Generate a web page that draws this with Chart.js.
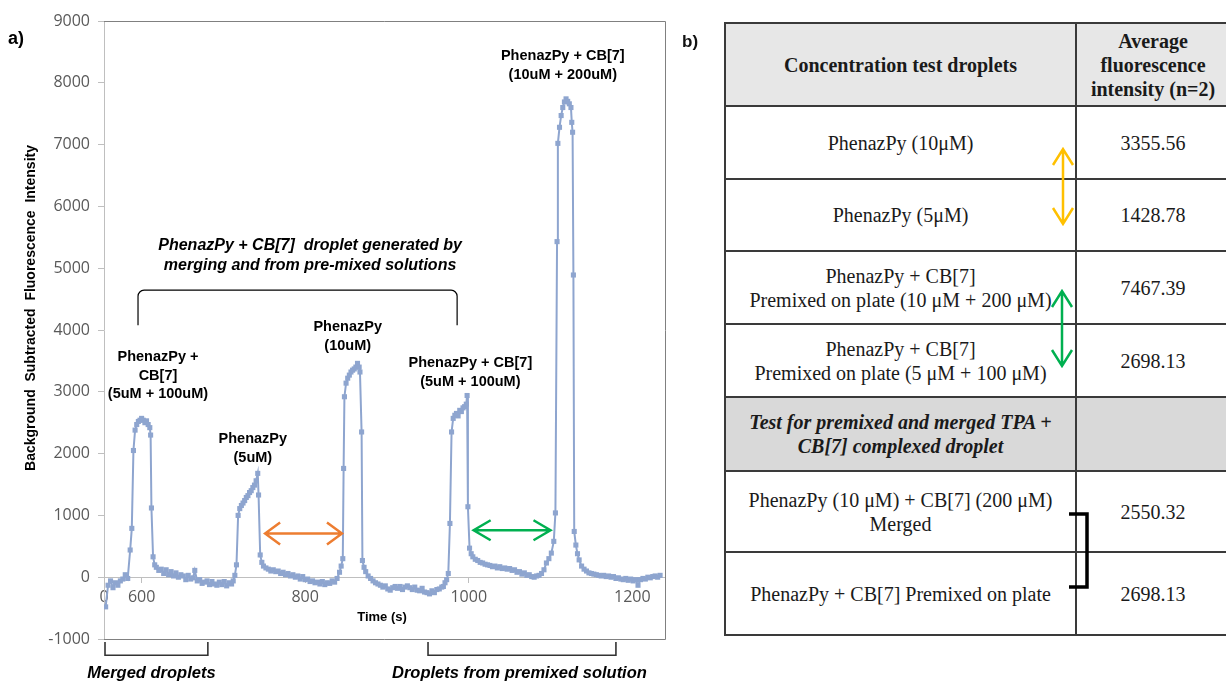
<!DOCTYPE html>
<html>
<head>
<meta charset="utf-8">
<title>PhenazPy droplet fluorescence</title>
<script src="https://cdn.jsdelivr.net/npm/chart.js"></script>
<style>
  body { margin: 0; background: #fff; width: 1226px; height: 681px; overflow: hidden; position: relative; }
  #chartBox { position: absolute; left: 0; top: 0; width: 720px; height: 681px; }
  #labelB { position: absolute; left: 682px; top: 32px; font: bold 17px "Liberation Sans", Arial, sans-serif; color: #111; }
  #results { position: absolute; left: 724px; top: 22px; width: 505px; border-collapse: collapse; table-layout: fixed;
             font-family: "Liberation Serif", "Times New Roman", serif; font-size: 20px; color: #1a1a1a; }
  #results td { border: 2px solid #3a3a3a; text-align: center; vertical-align: middle; padding: 0; line-height: 24px; }
  #results .head td { background: #e7e7e7; font-weight: bold; }
  #results .section td { background: #d9d9d9; font-weight: bold; font-style: italic; }
  #marks { position: absolute; left: 0; top: 0; pointer-events: none; }
</style>
</head>
<body>
  <div id="chartBox"><canvas id="trace"></canvas></div>
  <div id="labelB">b)</div>
  <table id="results">
    <colgroup><col style="width:351px"><col style="width:154px"></colgroup>
    <tbody id="resultsBody"></tbody>
  </table>
  <svg id="marks" width="1226" height="681">
    <g fill="none" stroke-linejoin="miter">
      <path d="M1063 149 V224 M1053 165 L1063 149 L1073 165 M1053 208 L1063 224 L1073 208" stroke="#ffc000" stroke-width="2.5"/>
      <path d="M1062 291 V366 M1052 307 L1062 291 L1072 307 M1052 350 L1062 366 L1072 350" stroke="#00b050" stroke-width="2.5"/>
      <path d="M1069 514 H1087 V587 H1069" stroke="#000" stroke-width="3.5"/>
    </g>
  </svg>

  <script>
    // trace: time (s) and background subtracted fluorescence intensity
    var times = [
      556, 559, 562, 565, 568, 571, 574, 577, 580, 583, 586, 588, 590, 592, 594, 596, 598, 600, 602, 604, 606, 608, 610, 611, 612, 614, 616,
      618, 621, 624, 627, 630, 633, 636, 639, 642, 645, 648, 651, 654, 657, 660, 663, 665, 668, 671, 674, 677, 680, 683, 686, 689, 692, 695, 698, 701, 704, 707, 710, 712, 714, 716,
      718, 720, 722, 724, 726, 728, 730, 732, 734, 736, 738, 740, 742, 743,
      745, 747, 749, 752, 755, 758, 761, 764, 767, 770, 773, 776, 779, 782, 785, 788, 791, 794, 797, 800, 803, 806, 809, 812, 815, 818, 821, 824, 827, 830, 833, 836, 839, 842, 844, 846,
      847, 848, 850, 852, 854, 856, 858, 860, 862, 864, 866, 867, 869,
      870, 872, 874, 877, 880, 883, 886, 889, 892, 895, 898, 901, 904, 907, 910, 913, 916, 919, 922, 925, 928, 931, 934, 937, 940, 943, 946, 949, 952, 955, 958, 961, 964, 967, 969, 971, 973, 975,
      977, 979, 981, 983, 985, 987, 989, 991, 993, 995, 997, 998, 999,
      1001, 1003, 1005, 1008, 1011, 1014, 1017, 1020, 1023, 1026, 1029, 1032, 1035, 1038, 1041, 1044, 1047, 1050, 1053, 1056, 1059, 1062, 1065, 1068, 1071, 1074, 1077, 1080, 1083, 1086, 1089, 1092, 1095, 1098, 1101, 1104, 1106,
      1108, 1109, 1111, 1113, 1115, 1117, 1119, 1121, 1123, 1125, 1126, 1127, 1128,
      1129, 1131, 1133, 1135, 1138, 1141, 1144, 1147, 1150, 1153, 1156, 1159, 1162, 1165, 1168, 1171, 1174, 1177, 1180, 1183, 1186, 1189, 1192, 1195, 1198, 1201, 1204, 1207, 1210, 1213, 1216, 1219, 1222, 1225, 1228, 1231, 1234
    ];
    var intensity = [
      -480, -130, -60, -170, -90, -130, -60, -30, 40, -20, 440, 790, 2050, 2380, 2470, 2520, 2540, 2570, 2540, 2500, 2530, 2470, 2420, 2300, 1120, 330, 200,
      160, 110, 130, 60, 120, 40, 90, 20, 70, 0, 40, 20, -40, 30, -30, -10, 110, -60, -40, -100, -80, -60, -120, -70, -110, -130, -80, -120, -70, -140, -90, -110, -60, 30, 200,
      1000, 1110, 1160, 1200, 1240, 1290, 1320, 1370, 1400, 1450, 1490, 1560, 1680, 1330,
      360, 240, 180, 150, 130, 100, 120, 90, 100, 60, 80, 40, 60, 20, 40, 0, 20, -30, 10, -40, -30, -70, -60, -90, -80, -110, -70, -120, -90, -100, -60, -80, -20, 80, 180, 300,
      1760, 2920, 3140, 3220, 3270, 3320, 3350, 3370, 3400, 3460, 3400, 3320, 2350,
      270, 160, 90, 20, -20, -60, -90, -110, -130, -160, -140, -190, -210, -170, -150, -180, -150, -200, -160, -140, -170, -200, -160, -210, -220, -180, -240, -250, -270, -220, -250, -200, -190, -160, -150, -90, -40, 60,
      870, 2350, 2570, 2620, 2650, 2610, 2700, 2680, 2740, 2760, 2800, 2940, 1140,
      470, 380, 330, 290, 270, 240, 230, 210, 200, 190, 170, 180, 150, 170, 140, 150, 130, 140, 110, 120, 80, 90, 50, 70, 30, 40, 10, 0, 20, 30, 60, 120, 230, 300, 390, 580, 1040,
      5430, 7020, 7280, 7470, 7600, 7690, 7740, 7700, 7660, 7600, 7360, 7200, 4890,
      740, 520, 380, 280, 180, 130, 100, 70, 60, 50, 40, 30, 20, 30, 10, 20, 0, 10, -20, -10, -30, -40, -20, -50, -30, -60, -40, -130, -40, -20, -30, 0, -10, 10, 20, 0, 30
    ];

    var xTickValues = [554, 600, 800, 1000, 1200];
    var xTickLabels = ['0', '600', '800', '1000', '1200'];
    var xMin = 554, xMax = 1240;
    var yMin = -1000, yMax = 9000, yStep = 1000;

    // table (panel b)
    var headLabels = ['Concentration test droplets', 'Average<br>fluorescence<br>intensity (n=2)'];
    var concLabels = ['PhenazPy (10\u03bcM)', 'PhenazPy (5\u03bcM)',
                      'PhenazPy + CB[7]<br>Premixed on plate (10 \u03bcM + 200 \u03bcM)',
                      'PhenazPy + CB[7]<br>Premixed on plate (5 \u03bcM + 100 \u03bcM)'];
    var concValues = [3355.56, 1428.78, 7467.39, 2698.13];
    var sectionLabel = 'Test for premixed and merged TPA +<br>CB[7] complexed droplet';
    var mergeLabels = ['PhenazPy (10 \u03bcM) + CB[7] (200 \u03bcM)<br>Merged', 'PhenazPy + CB[7] Premixed on plate'];
    var mergeValues = [2550.32, 2698.13];

    var rowHeights = [83, 73, 72, 73, 73, 74, 81, 83];
    var rows = [['head', headLabels[0], headLabels[1]]];
    concLabels.forEach(function(l, i) { rows.push(['', l, concValues[i].toFixed(2)]); });
    rows.push(['section', sectionLabel, '']);
    mergeLabels.forEach(function(l, i) { rows.push(['', l, mergeValues[i].toFixed(2)]); });
    document.getElementById('resultsBody').innerHTML = rows.map(function(r, i) {
      return '<tr class="' + r[0] + '" style="height:' + rowHeights[i] + 'px"><td>' + r[1] + '</td><td>' + r[2] + '</td></tr>';
    }).join('');

    var lineColor = '#8ea5cf';
    var tickFont = { family: '"Open Sans", sans-serif', size: 16 };
    var tickColor = '#595959';

    // annotations: positions in data units (time, intensity)
    var peakNotes = [
      { t: 620, v: 3560, lines: ['PhenazPy +', 'CB[7]', '(5uM + 100uM)'] },
      { t: 736, v: 2235, lines: ['PhenazPy', '(5uM)'] },
      { t: 852, v: 4045, lines: ['PhenazPy', '(10uM)'] },
      { t: 1002, v: 3465, lines: ['PhenazPy + CB[7]', '(5uM + 100uM)'] },
      { t: 1115, v: 8430, lines: ['PhenazPy + CB[7]', '(10uM + 200uM)'] }
    ];

    function arrowH(ctx, x1, x2, y, len, half) {
      ctx.beginPath();
      ctx.moveTo(x1, y); ctx.lineTo(x2, y);
      ctx.moveTo(x1 + len, y - half); ctx.lineTo(x1, y); ctx.lineTo(x1 + len, y + half);
      ctx.moveTo(x2 - len, y - half); ctx.lineTo(x2, y); ctx.lineTo(x2 - len, y + half);
      ctx.stroke();
    }

    var overlay = {
      id: 'overlay',
      afterDraw: function(chart) {
        var ctx = chart.ctx, a = chart.chartArea, sx = chart.scales.x, sy = chart.scales.y;
        var px = function(t) { return sx.getPixelForValue(t); };
        var py = function(v) { return sy.getPixelForValue(v); };
        ctx.save();

        // frame: top, right, bottom
        ctx.strokeStyle = '#808080';
        ctx.lineWidth = 1;
        ctx.beginPath();
        ctx.moveTo(a.left, a.top + 0.5);
        ctx.lineTo(a.right + 0.5, a.top + 0.5);
        ctx.lineTo(a.right + 0.5, a.bottom + 0.5);
        ctx.lineTo(a.left, a.bottom + 0.5);
        ctx.stroke();

        ctx.fillStyle = '#000';
        ctx.textAlign = 'center';
        ctx.textBaseline = 'middle';

        ctx.font = 'bold 14.5px "Liberation Sans", Arial, sans-serif';
        peakNotes.forEach(function(n) {
          n.lines.forEach(function(s, k) { ctx.fillText(s, px(n.t), py(n.v) + k * 18.5); });
        });

        // bracket over the droplets
        ctx.font = 'italic bold 16px "Liberation Sans", Arial, sans-serif';
        ctx.fillText('PhenazPy + CB[7]  droplet generated by', px(806), py(5372));
        ctx.fillText('merging and from pre-mixed solutions', px(806), py(5372) + 20);
        var bl = px(595.6), br = px(985.8), bt = py(4644), bb = py(4077);
        ctx.strokeStyle = '#000';
        ctx.lineWidth = 1.2;
        ctx.beginPath();
        ctx.moveTo(bl, bb);
        ctx.arcTo(bl, bt, br, bt, 6);
        ctx.arcTo(br, bt, br, bb, 6);
        ctx.lineTo(br, bb);
        ctx.stroke();

        // gap arrows
        ctx.lineWidth = 2.5;
        ctx.strokeStyle = '#ed7d31';
        arrowH(ctx, px(751), px(845), py(707), 15, 11);
        ctx.strokeStyle = '#00b050';
        arrowH(ctx, px(1006), px(1100), py(760), 17, 10);

        // axis titles
        ctx.font = 'bold 13px "Liberation Sans", Arial, sans-serif';
        ctx.fillText('Time (s)', px(894), py(-650));
        ctx.save();
        ctx.translate(31, 308);
        ctx.rotate(-Math.PI / 2);
        ctx.font = 'bold 14px "Liberation Sans", Arial, sans-serif';
        ctx.fillText('Background  Subtracted  Fluorescence  Intensity', 0, 0);
        ctx.restore();

        // lower brackets
        ctx.strokeStyle = '#333';
        ctx.lineWidth = 1.6;
        [[554, 681], [949, 1180]].forEach(function(r) {
          ctx.beginPath();
          ctx.moveTo(px(r[0]) + 1, py(-1050));
          ctx.lineTo(px(r[0]) + 1, py(-1262));
          ctx.lineTo(px(r[1]), py(-1262));
          ctx.lineTo(px(r[1]), py(-1050));
          ctx.stroke();
        });
        ctx.font = 'italic bold 16.5px "Liberation Sans", Arial, sans-serif';
        ctx.fillText('Merged droplets', px(612), py(-1555));
        ctx.fillText('Droplets from premixed solution', px(1062), py(-1555));

        ctx.textAlign = 'left';
        ctx.font = 'bold 18px "Liberation Sans", Arial, sans-serif';
        ctx.fillText('a)', 8, 39);
        ctx.restore();
      }
    };

    var ctx = document.getElementById('trace').getContext('2d');
    var trace = new Chart(ctx, {
      type: 'line',
      data: {
        datasets: [{
          data: times.map(function(t, i) { return { x: t, y: intensity[i] }; }),
          borderColor: lineColor,
          backgroundColor: lineColor,
          borderWidth: 2,
          pointStyle: 'rect',
          pointRadius: 3.6,
          pointBorderWidth: 0,
          tension: 0
        }]
      },
      options: {
        animation: false,
        responsive: true,
        maintainAspectRatio: false,
        layout: { padding: { top: 21, right: 55, bottom: 42, left: 0 } },
        plugins: { legend: { display: false }, tooltip: { enabled: false } },
        scales: {
          x: {
            type: 'linear',
            min: xMin, max: xMax,
            position: { y: 0 },
            afterBuildTicks: function(s) { s.ticks = xTickValues.map(function(v) { return { value: v }; }); },
            ticks: {
              autoSkip: false, maxRotation: 0, padding: 6, font: tickFont, color: tickColor,
              callback: function(v) { return xTickLabels[xTickValues.indexOf(v)]; }
            },
            grid: { drawOnChartArea: false, tickLength: 5, color: '#bfbfbf' },
            border: { color: '#bfbfbf' }
          },
          y: {
            min: yMin, max: yMax,
            ticks: { stepSize: yStep, padding: 8, font: tickFont, color: tickColor,
                     callback: function(v) { return String(v); } },
            grid: { drawOnChartArea: false, tickLength: 6, color: '#bfbfbf' },
            border: { color: '#bfbfbf' },
            afterFit: function(s) { s.width = 104; }
          }
        }
      },
      plugins: [overlay]
    });
  </script>
</body>
</html>
